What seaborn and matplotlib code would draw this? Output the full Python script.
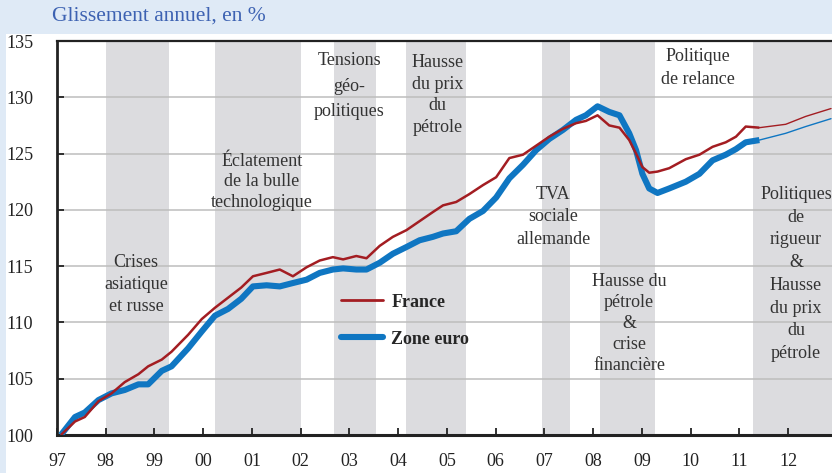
import matplotlib
matplotlib.use('Agg')
import matplotlib.pyplot as plt
import seaborn as sns
import numpy as np
from matplotlib.lines import Line2D
from matplotlib.patches import Rectangle

sns.set_theme(style='white')
plt.rcParams['font.family'] = ['Liberation Serif', 'DejaVu Serif']

# Data (index, base 100 in 1997)
annees = [1997.08, 1997.37, 1997.57, 1997.85, 1998.12, 1998.39, 1998.67, 1998.87,
          1999.15, 1999.35, 1999.69, 1999.97, 2000.24, 2000.51, 2000.78, 2001.02,
          2001.30, 2001.57, 2001.84, 2002.12, 2002.39, 2002.66, 2002.87, 2003.14,
          2003.35, 2003.62, 2003.89, 2004.17, 2004.44, 2004.71, 2004.92, 2005.19,
          2005.46, 2005.74, 2006.01, 2006.28, 2006.56, 2006.83, 2007.10, 2007.38,
          2007.65, 2007.85, 2008.09, 2008.33, 2008.54, 2008.74, 2008.88, 2009.01,
          2009.15, 2009.32, 2009.56, 2009.90, 2010.18, 2010.45, 2010.72, 2010.93,
          2011.13, 2011.41]
france = [100.0, 101.2, 101.6, 103.0, 103.7, 104.7, 105.4, 106.1,
          106.7, 107.4, 108.9, 110.3, 111.3, 112.2, 113.1, 114.1,
          114.4, 114.7, 114.1, 114.9, 115.5, 115.8, 115.6, 115.9,
          115.7, 116.8, 117.6, 118.2, 119.0, 119.8, 120.4, 120.7,
          121.4, 122.2, 122.9, 124.6, 124.9, 125.7, 126.5, 127.2,
          127.7, 127.9, 128.4, 127.5, 127.3, 126.2, 125.0, 123.8,
          123.3, 123.4, 123.7, 124.5, 124.9, 125.6, 126.0, 126.5,
          127.4, 127.3]
zone_euro = [100.0, 101.6, 102.0, 103.1, 103.7, 104.0, 104.5, 104.5,
             105.7, 106.1, 107.7, 109.2, 110.6, 111.2, 112.1, 113.2,
             113.3, 113.2, 113.5, 113.8, 114.4, 114.7, 114.8, 114.7,
             114.7, 115.3, 116.1, 116.7, 117.3, 117.6, 117.9, 118.1,
             119.2, 119.9, 121.1, 122.8, 124.0, 125.3, 126.3, 127.1,
             128.0, 128.4, 129.2, 128.7, 128.4, 126.8, 125.3, 123.2,
             121.9, 121.5, 121.9, 122.5, 123.2, 124.4, 124.9, 125.4,
             126.0, 126.2]

# Projections
annees_proj = [2011.41, 2011.95, 2012.36, 2012.88]
france_proj = [127.3, 127.6, 128.3, 129.0]
zone_euro_proj = [126.2, 126.8, 127.4, 128.1]

# Shaded periods
periodes = [(1998.0, 1999.3), (2000.25, 2002.0), (2002.68, 2003.54), (2004.17, 2005.4),
            (2006.96, 2007.53), (2008.13, 2009.27), (2011.28, 2013.0)]

annotations = [
    (1998.62, 113.4, "Crises\nasiatique\net russe"),
    (2001.2, 122.5, "Éclatement\nde la bulle\ntechnologique"),
    (2003.0, 131.0, "Tensions\ngéo-\npolitiques"),
    (2004.81, 130.2, "Hausse\ndu prix\ndu\npétrole"),
    (2007.18, 119.4, "TVA\nsociale\nallemande"),
    (2010.14, 132.6, "Politique\nde relance"),
    (2008.74, 109.9, "Hausse du\npétrole\n&\ncrise\nfinancière"),
    (2012.16, 114.3, "Politiques\nde\nrigueur\n&\nHausse\ndu prix\ndu\npétrole"),
]
interlignes = [1.38, 1.26, 1.63, 1.37, 1.42, 1.42, 1.3, 1.44]

annee_ticks = list(range(1997, 2013))
annee_labels = [f"{a % 100:02d}" for a in annee_ticks]

rouge = '#a31d22'
bleu = '#0f76c2'

fig = plt.figure(figsize=(8.32, 4.73), dpi=100)
fig.patch.set_facecolor('#dfeaf6')
fig.patches.append(Rectangle((6 / 832, 0), 1, (473 - 34) / 473, transform=fig.transFigure,
                             facecolor='white', edgecolor='none', zorder=-1))
fig.text(52 / 832, 1 - 16 / 473, "Glissement annuel, en %", color='#3d62b2',
         fontsize=15.5, va='center', ha='left')

ax = fig.add_axes([57 / 832, 38 / 473, 1 - 57 / 832, (435 - 41) / 473])
ax.set_facecolor('white')

for debut, fin in periodes:
    ax.axvspan(debut, fin, color='#dcdcdf', lw=0, zorder=0.1)

ax.set_axisbelow(True)
ax.yaxis.grid(True, color='#bdbdbd', lw=1.1)

sns.lineplot(x=annees, y=zone_euro, ax=ax, color=bleu, lw=4.4, zorder=3,
             solid_capstyle='butt')
sns.lineplot(x=annees_proj, y=zone_euro_proj, ax=ax, color=bleu, lw=1.0, zorder=3)
sns.lineplot(x=annees, y=france, ax=ax, color=rouge, lw=1.8, zorder=4,
             solid_capstyle='butt')
sns.lineplot(x=annees_proj, y=france_proj, ax=ax, color=rouge, lw=1.0, zorder=4)

for (x, y, txt), ls in zip(annotations, interlignes):
    ax.text(x, y, txt, ha='center', va='center', fontsize=13, color='#333333',
            linespacing=ls, zorder=5)

handles = [Line2D([], [], color=rouge, lw=2.0), Line2D([], [], color=bleu, lw=4.4)]
ax.legend(handles, ["France", "Zone euro"], loc='upper left',
          bbox_to_anchor=(0.345, 0.40), frameon=False, handlelength=2.35,
          labelspacing=1.1, handletextpad=0.45,
          prop={'weight': 'bold', 'size': 13, 'family': 'Liberation Serif'})

ax.set_xlim(1997, 2012.9)
ax.set_ylim(100, 135)
ax.set_xticks(annee_ticks)
ax.set_xticklabels(annee_labels)
ax.set_yticks([100, 105, 110, 115, 120, 125, 130, 135])
ax.tick_params(axis='both', direction='in', length=5, width=1.3, color='#222222',
               labelsize=13, labelcolor='#222222', bottom=True, left=True)
ax.tick_params(axis='x', pad=13)
ax.tick_params(axis='y', pad=17)

for side in ['left', 'bottom', 'top']:
    ax.spines[side].set_color('#222222')
ax.spines['left'].set_linewidth(2.0)
ax.spines['bottom'].set_linewidth(2.2)
ax.spines['top'].set_linewidth(1.6)
ax.spines['right'].set_visible(False)
ax.set_xlabel('')
ax.set_ylabel('')

fig.savefig('out.png', dpi=100)
